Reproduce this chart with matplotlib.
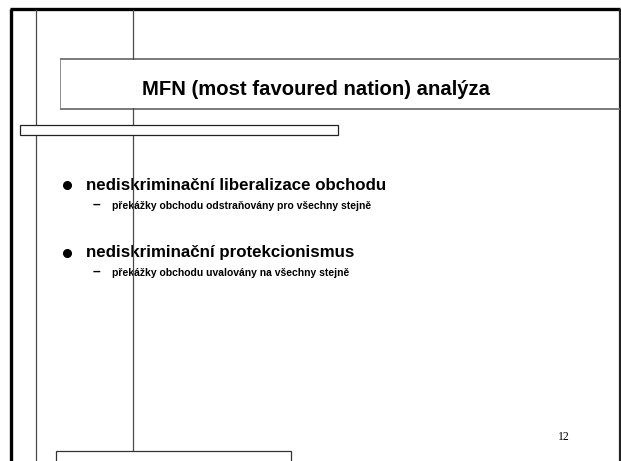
import matplotlib
matplotlib.use("Agg")
import matplotlib.pyplot as plt
from matplotlib.patches import Rectangle

W, H = 621, 461
LINE = "#4a4a4a"
GREY = "#7a7a7a"

TITLE = "MFN (most favoured nation) analýza"
BULLETS = ["nediskriminační liberalizace obchodu",
           "nediskriminační protekcionismus"]
SUBS = ["překážky obchodu odstraňovány pro všechny stejně",
        "překážky obchodu uvalovány na všechny stejně"]
BULLET_Y = [190, 257]
SUB_Y = [209, 276]
PAGE = "12"

fig = plt.figure(figsize=(W / 100, H / 100), dpi=100)
ax = fig.add_axes([0, 0, 1, 1])
ax.set_xlim(0, W)
ax.set_ylim(H, 0)
ax.axis("off")

# slide frame
ax.plot([11, 11], [9.5, H + 5], color="black", lw=2.4, solid_capstyle="butt")
ax.plot([10, 619.5], [9.5, 9.5], color="black", lw=2.4, solid_capstyle="butt")
ax.plot([619.5, 619.5], [9, H + 5], color="#222222", lw=1.6, solid_capstyle="butt")

# guide lines
ax.plot([35.5, 35.5], [10, H + 5], color=LINE, lw=0.9, zorder=5)
ax.plot([132.5, 132.5], [10, 451], color=LINE, lw=0.9, zorder=5)

# title box
ax.plot([61, 61], [59, 109], color=GREY, lw=1.2)
ax.plot([61, 619], [59, 59], color=GREY, lw=1.4)
ax.plot([61, 619], [109, 109], color=GREY, lw=1.4)
ax.add_patch(Rectangle((61, 60), 557, 48, facecolor="white", edgecolor="none", zorder=6))
ax.text(142, 95, TITLE, fontsize=14.6, fontweight="bold", family="Liberation Sans",
        va="baseline", ha="left", zorder=7)

# thin bar
ax.add_patch(Rectangle((20, 125), 318, 10, facecolor="white", edgecolor="#222222",
                       lw=0.9, zorder=6))

# bottom box
ax.add_patch(Rectangle((56, 451), 235, 30, facecolor="white", edgecolor="#333333",
                       lw=0.9, zorder=6))

for txt, y in zip(BULLETS, BULLET_Y):
    ax.plot(67, y - 4.5, "o", color="black", ms=5.5, zorder=4)
    ax.text(86, y, txt, fontsize=12.2, fontweight="bold", family="Liberation Sans",
            va="baseline", ha="left", zorder=4)

for txt, y in zip(SUBS, SUB_Y):
    ax.text(93, y, "–", fontsize=10, fontweight="bold", family="Liberation Sans",
            va="baseline", ha="left", zorder=4)
    ax.text(112, y, txt, fontsize=7.5, fontweight="bold", family="Liberation Sans",
            va="baseline", ha="left", zorder=4)

ax.text(564, 440, PAGE, fontsize=8.5, family="Liberation Serif",
        va="baseline", ha="center")

fig.savefig("out.png", dpi=100, facecolor="white")
